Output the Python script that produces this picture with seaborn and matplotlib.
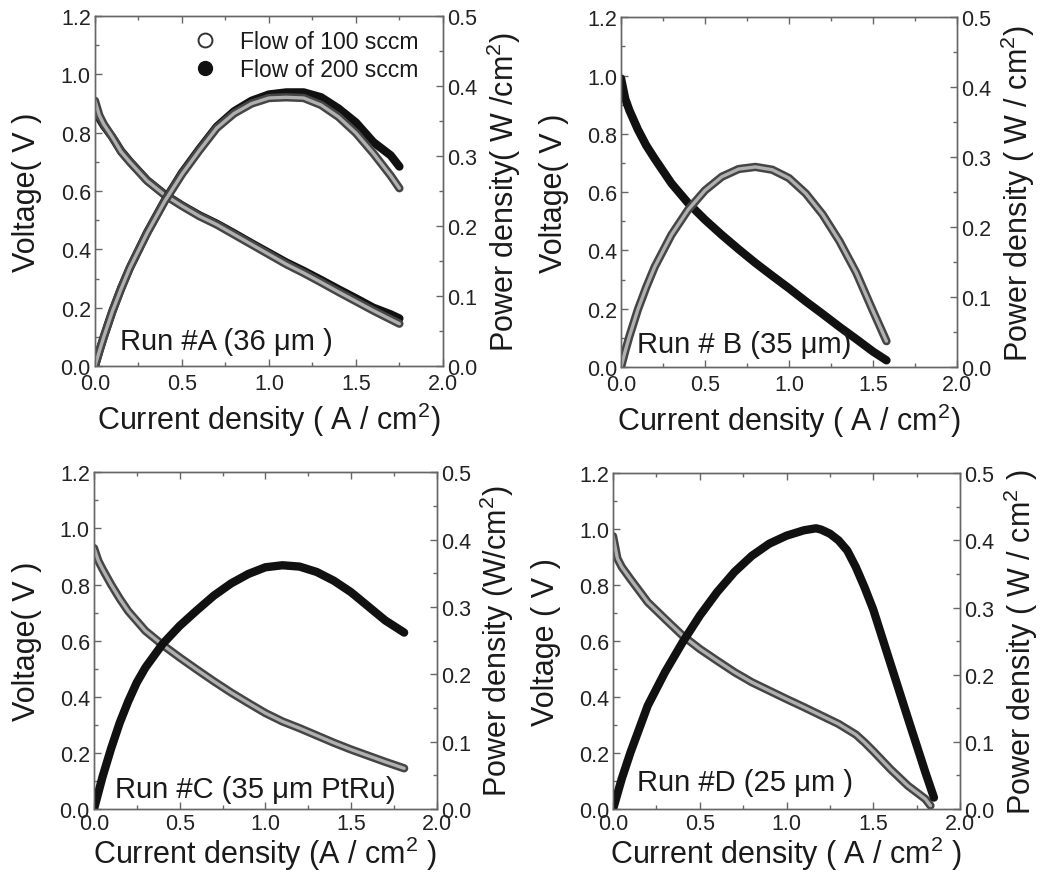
import matplotlib
matplotlib.use("Agg")
import matplotlib.pyplot as plt
from matplotlib.ticker import MultipleLocator
from matplotlib.lines import Line2D
import seaborn as sns

# ---- Run #A: two flow rates ----
current_a = [0, 0.025, 0.05, 0.1, 0.15, 0.2, 0.3, 0.4, 0.5, 0.6, 0.7, 0.8,
             0.9, 1.0, 1.1, 1.2, 1.3, 1.4, 1.5, 1.6, 1.7, 1.75]
volt_a_100 = [0.91, 0.86, 0.83, 0.785, 0.735, 0.70, 0.635, 0.587, 0.549, 0.514,
              0.485, 0.451, 0.417, 0.383, 0.349, 0.319, 0.287, 0.254, 0.222,
              0.19, 0.16, 0.145]
volt_a_200 = [0.88, 0.85, 0.825, 0.785, 0.738, 0.702, 0.637, 0.589, 0.551, 0.517,
              0.488, 0.455, 0.421, 0.388, 0.355, 0.326, 0.295, 0.263, 0.232,
              0.200, 0.177, 0.163]
power_a_100 = [0, 0.021, 0.041, 0.078, 0.110, 0.140, 0.190, 0.235, 0.274, 0.308,
               0.340, 0.361, 0.375, 0.383, 0.384, 0.383, 0.373, 0.356, 0.333,
               0.304, 0.272, 0.254]
power_a_200 = [0, 0.021, 0.041, 0.078, 0.111, 0.140, 0.191, 0.236, 0.276, 0.310,
               0.342, 0.364, 0.379, 0.388, 0.391, 0.391, 0.384, 0.368, 0.348,
               0.32, 0.301, 0.285]

# ---- Run #B ----
current_b = [0, 0.025, 0.05, 0.1, 0.15, 0.2, 0.3, 0.4, 0.5, 0.6, 0.7, 0.8, 0.9,
             1.0, 1.1, 1.2, 1.3, 1.4, 1.5, 1.58]
volt_b = [0.99, 0.92, 0.88, 0.815, 0.76, 0.715, 0.63, 0.562, 0.505, 0.453, 0.404,
          0.357, 0.313, 0.27, 0.225, 0.182, 0.138, 0.096, 0.053, 0.023]
power_b = [0, 0.023, 0.044, 0.082, 0.114, 0.143, 0.189, 0.225, 0.2525, 0.272,
           0.283, 0.286, 0.282, 0.27, 0.248, 0.218, 0.18, 0.135, 0.08, 0.037]

# ---- Run #C (PtRu) ----
current_c_volt = [0, 0.025, 0.05, 0.1, 0.15, 0.2, 0.3, 0.4, 0.5, 0.6, 0.7, 0.8,
                  0.9, 1.0, 1.1, 1.2, 1.3, 1.4, 1.5, 1.6, 1.7, 1.81]
volt_c = [0.93, 0.885, 0.855, 0.80, 0.75, 0.705, 0.635, 0.585, 0.54, 0.497, 0.455,
          0.415, 0.378, 0.342, 0.312, 0.288, 0.262, 0.236, 0.212, 0.19, 0.168, 0.145]
current_c_power = [0, 0.05, 0.1, 0.15, 0.2, 0.25, 0.3, 0.4, 0.5, 0.6, 0.7, 0.8,
                   0.9, 1.0, 1.1, 1.2, 1.3, 1.4, 1.5, 1.6, 1.7, 1.81]
power_c = [0, 0.048, 0.09, 0.128, 0.16, 0.188, 0.21, 0.245, 0.272, 0.295, 0.317,
           0.335, 0.349, 0.359, 0.362, 0.36, 0.352, 0.339, 0.322, 0.301, 0.28, 0.262]

# ---- Run #D ----
current_d_volt = [0, 0.025, 0.05, 0.1, 0.2, 0.3, 0.4, 0.5, 0.6, 0.7, 0.8, 0.9,
                  1.0, 1.1, 1.2, 1.3, 1.4, 1.45, 1.5, 1.6, 1.7, 1.8, 1.83]
volt_d = [0.975, 0.895, 0.865, 0.822, 0.739, 0.679, 0.62, 0.572, 0.53, 0.489,
          0.453, 0.423, 0.393, 0.364, 0.334, 0.304, 0.266, 0.238, 0.207, 0.142,
          0.083, 0.036, 0.012]
current_d_power = [0, 0.05, 0.1, 0.2, 0.3, 0.4, 0.5, 0.6, 0.7, 0.8, 0.9, 1.0, 1.1,
                   1.17, 1.2, 1.25, 1.3, 1.35, 1.4, 1.45, 1.5, 1.6, 1.7, 1.8, 1.85]
power_d = [0, 0.045, 0.084, 0.154, 0.204, 0.248, 0.288, 0.323, 0.353, 0.377, 0.395,
           0.407, 0.415, 0.418, 0.416, 0.41, 0.40, 0.385, 0.36, 0.33, 0.297, 0.216,
           0.135, 0.055, 0.017]

legend_labels = ["Flow of 100 sccm", "Flow of 200 sccm"]
run_labels = ["Run #A (36 \u03bcm )", "Run # B (35 \u03bcm)",
              "Run #C (35 \u03bcm PtRu)", "Run #D (25 \u03bcm )"]
volt_labels = ["Voltage( V )", "Voltage( V )", "Voltage( V )", "Voltage ( V )"]
power_labels = ["Power density( W /cm$^2$)", "Power density ( W / cm$^2$)",
                "Power density (W/cm$^2$)", "Power density ( W / cm$^2$ )"]
current_labels = ["Current density ( A / cm$^2$)", "Current density ( A / cm$^2$)",
                  "Current density (A / cm$^2$ )", "Current density ( A / cm$^2$ )"]

sns.set_style("ticks")
plt.rcParams.update({
    "font.family": ["Liberation Sans", "DejaVu Sans"],
    "mathtext.fontset": "custom",
    "mathtext.rm": "Liberation Sans",
    "mathtext.it": "Liberation Sans:italic",
    "mathtext.bf": "Liberation Sans:bold",
    "axes.edgecolor": "#666666",
    "axes.linewidth": 1.0,
    "xtick.color": "#666666",
    "ytick.color": "#666666",
    "xtick.labelcolor": "#222222",
    "ytick.labelcolor": "#222222",
    "text.color": "#1a1a1a",
    "axes.labelcolor": "#1a1a1a",
})

INK = "#111111"
RING = "#454545"
CORE = "#b0b0b0"
TICK_FS = 15.5
LABEL_FS = 22


def filled(ax, x, y):
    sns.lineplot(x=x, y=y, ax=ax, color=INK, linewidth=6, estimator=None,
                 sort=False, legend=False, solid_capstyle="round")


def hollow(ax, x, y):
    sns.lineplot(x=x, y=y, ax=ax, color=RING, linewidth=6, estimator=None,
                 sort=False, legend=False, solid_capstyle="round")
    sns.lineplot(x=x, y=y, ax=ax, color=CORE, linewidth=2.4, estimator=None,
                 sort=False, legend=False, solid_capstyle="round")


fig = plt.figure(figsize=(10.48, 8.79), dpi=100)
boxes = [
    (0.0906, 0.5825, 0.332, 0.398),
    (0.5926, 0.5813, 0.3206, 0.398),
    (0.0897, 0.0785, 0.327, 0.383),
    (0.585, 0.0785, 0.331, 0.382),
]
run_pos = [(0.072, 0.07), (0.048, 0.066), (0.061, 0.06), (0.069, 0.08)]
xlabel_pad = [4, 4, 0, 0]

axes = []
for i, box in enumerate(boxes):
    ax = fig.add_axes(box)
    ax2 = ax.twinx()
    axes.append((ax, ax2))

    ax.set_xlim(0, 2.0)
    ax.set_ylim(0, 1.2)
    ax2.set_ylim(0, 0.5)
    ax.xaxis.set_major_locator(MultipleLocator(0.5))
    ax.xaxis.set_minor_locator(MultipleLocator(0.25))
    ax.yaxis.set_major_locator(MultipleLocator(0.2))
    ax.yaxis.set_minor_locator(MultipleLocator(0.1))
    ax2.yaxis.set_major_locator(MultipleLocator(0.1))
    ax2.yaxis.set_minor_locator(MultipleLocator(0.05))
    ax.xaxis.set_major_formatter(plt.FormatStrFormatter("%.1f"))
    ax.yaxis.set_major_formatter(plt.FormatStrFormatter("%.1f"))
    ax2.yaxis.set_major_formatter(plt.FormatStrFormatter("%.1f"))

    ax.tick_params(axis="x", which="both", direction="in", top=True, bottom=True,
                   labelsize=TICK_FS, pad=5 if i < 2 else 3)
    ax.tick_params(axis="y", which="both", direction="in", left=True, right=False,
                   labelsize=TICK_FS, pad=3)
    ax2.tick_params(axis="y", which="both", direction="in", labelsize=TICK_FS, pad=3)
    for a in (ax, ax2):
        a.tick_params(which="major", length=5, width=1)
        a.tick_params(which="minor", length=3, width=1)
        a.grid(False)

    ax.set_xlabel(current_labels[i], fontsize=LABEL_FS, labelpad=xlabel_pad[i])
    ax.set_ylabel(volt_labels[i], fontsize=LABEL_FS, labelpad=13)
    ax2.set_ylabel(power_labels[i], fontsize=LABEL_FS, labelpad=5)
    ax.text(run_pos[i][0], run_pos[i][1], run_labels[i], transform=ax.transAxes,
            fontsize=21, va="center", ha="left", zorder=10)

# Run #A
ax, ax2 = axes[0]
filled(ax, current_a, volt_a_200)
hollow(ax, current_a, volt_a_100)
filled(ax2, current_a, power_a_200)
hollow(ax2, current_a, power_a_100)
handles = [
    Line2D([], [], linestyle="none", marker="o", markersize=10,
           markerfacecolor="white", markeredgecolor="#333333", markeredgewidth=1.4),
    Line2D([], [], linestyle="none", marker="o", markersize=10,
           markerfacecolor=INK, markeredgecolor=INK),
]
ax2.legend(handles, legend_labels, loc="upper left", bbox_to_anchor=(0.238, 1.005),
           frameon=False, fontsize=16.5, handletextpad=1.0, labelspacing=0.2,
           handlelength=1.0, borderpad=0.2)

# Run #B
ax, ax2 = axes[1]
filled(ax, current_b, volt_b)
hollow(ax2, current_b, power_b)

# Run #C
ax, ax2 = axes[2]
hollow(ax, current_c_volt, volt_c)
filled(ax2, current_c_power, power_c)

# Run #D
ax, ax2 = axes[3]
hollow(ax, current_d_volt, volt_d)
filled(ax2, current_d_power, power_d)

fig.savefig("out.png", dpi=100)
